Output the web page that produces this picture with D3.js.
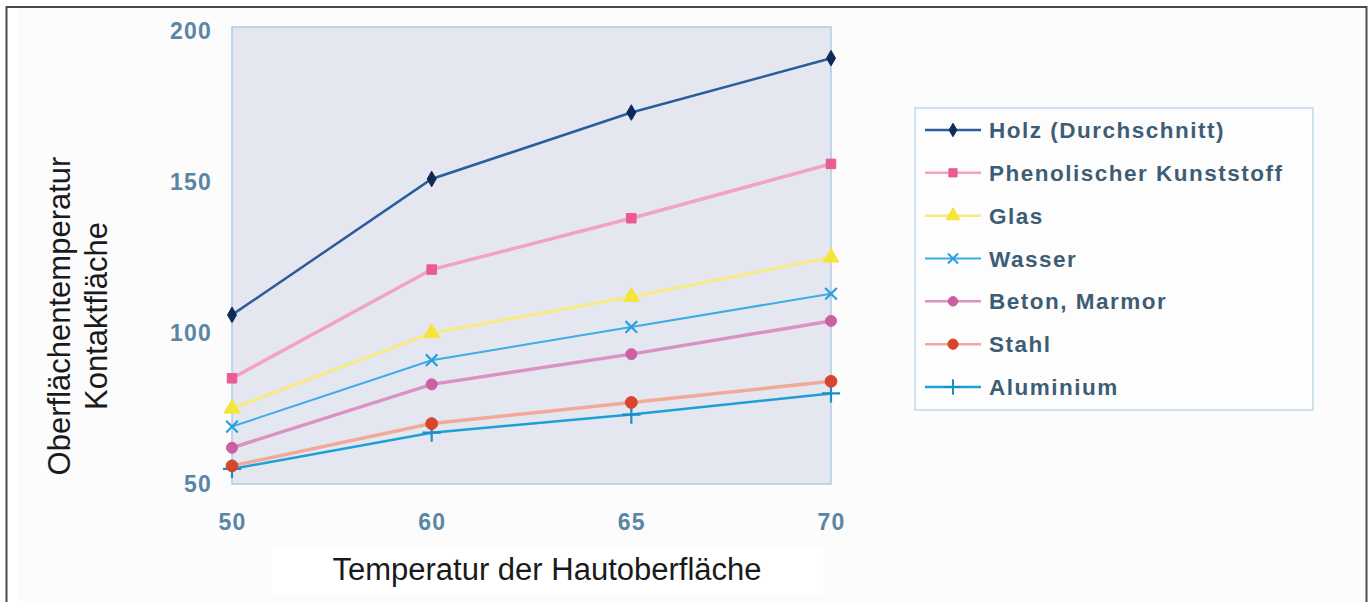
<!DOCTYPE html>
<html lang="de">
<head>
	<meta charset="UTF-8"/>
	<title>Oberflächentemperatur der Kontaktfläche</title>
	<script src="https://d3js.org/d3.v7.min.js"></script>
	<style>
		body { margin: 0; background: #ffffff; }
		svg { display: block; font-family: "Liberation Sans", Arial, Helvetica, sans-serif; }
	</style>
</head>
<body>
<script>
	var w = 1372;	// Width of the SVG
	var h = 602;	// Height of the SVG

	// Categories on the x axis (skin temperature)
	var hautTemp = ["50", "60", "65", "70"];
	// Tick values on the y axis
	var yTicks = [50, 100, 150, 200];

	// Legend names
	var materialien = ["Holz (Durchschnitt)", "Phenolischer Kunststoff", "Glas", "Wasser",
		"Beton, Marmor", "Stahl", "Aluminium"];

	// Series values, one per material
	var holz      = [106, 151, 173, 191];
	var phenol    = [85, 121, 138, 156];
	var glas      = [75, 100, 112, 125];
	var wasser    = [69, 91, 102, 113];
	var beton     = [62, 83, 93, 104];
	var stahl     = [56, 70, 77, 84];
	var aluminium = [55, 67, 73, 80];

	var werte = [holz, phenol, glas, wasser, beton, stahl, aluminium];

	// Styles for each series: line colour, marker colour, marker type
	var stile = [
		{ line: "#2b5c9b", mark: "#0f2a56", sym: d3.symbolDiamond, size: 70, fill: true, lw: 2.5 },
		{ line: "#f3a2bf", mark: "#ea5a93", sym: d3.symbolSquare, size: 90, fill: true, lw: 3.5 },
		{ line: "#f7ea82", mark: "#f5e43a", sym: d3.symbolTriangle, size: 110, fill: true, lw: 3 },
		{ line: "#3aade3", mark: "#2a9fdf", sym: d3.symbolTimes || d3.symbolX, size: 90, fill: false, lw: 2 },
		{ line: "#da92c2", mark: "#cc5ea2", sym: d3.symbolCircle, size: 95, fill: true, lw: 3.5 },
		{ line: "#f1aa9a", mark: "#d8452e", sym: d3.symbolCircle, size: 110, fill: true, lw: 3.5 },
		{ line: "#1d9fd8", mark: "#1a8fc6", sym: d3.symbolPlus, size: 110, fill: false, lw: 2.5 }
	];

	// Table built for drawing
	var serien = materialien.map(function(name, i) {
		return { name: name, values: werte[i], stil: stile[i] };
	});

	var xScale = d3.scalePoint()
		.domain(hautTemp)
		.range([232, 831]);

	var yScale = d3.scaleLinear()
		.domain([50, 200])
		.range([484, 31]);

	var svg = d3.select("body")
		.append("svg")
		.attr("width", w)
		.attr("height", h);

	// Page background and outer frame
	svg.append("rect")
		.attr("x", 0).attr("y", 0)
		.attr("width", w).attr("height", h)
		.attr("fill", "#ffffff");
	svg.append("rect")
		.attr("x", 18).attr("y", 8)
		.attr("width", 1347).attr("height", h)
		.attr("fill", "#fcfcfc");
	svg.append("path")
		.attr("d", "M6.5," + h + "V7H1366.5V" + h)
		.attr("fill", "none")
		.attr("stroke", "#4a4a4a")
		.attr("stroke-width", 2);

	// Plot area
	svg.append("rect")
		.attr("x", 232)
		.attr("y", 27)
		.attr("width", 831 - 232)
		.attr("height", 484 - 27)
		.attr("fill", "#e5e7f0")
		.attr("stroke", "#afcce2")
		.attr("stroke-width", 1.5);

	// Shared style for the tick labels
	function tickStil(sel) {
		sel.attr("font-size", 23)
			.attr("font-weight", "bold")
			.attr("letter-spacing", "1.2px")
			.attr("font-family", "Liberation Sans, Arial, sans-serif")
			.attr("fill", "#5a86a6");
	}

	// Y axis (labels only)
	var yAxis = d3.axisLeft(yScale)
		.tickValues(yTicks)
		.tickSize(0)
		.tickPadding(20);

	var gy = svg.append("g")
		.attr("transform", "translate(232,0)")
		.call(yAxis);
	gy.select(".domain").remove();
	gy.selectAll("text").call(tickStil);

	// X axis (labels only)
	var xAxis = d3.axisBottom(xScale)
		.tickSize(0)
		.tickPadding(30);

	var gx = svg.append("g")
		.attr("transform", "translate(0,484)")
		.call(xAxis);
	gx.select(".domain").remove();
	gx.selectAll("text").call(tickStil);

	// Lines and markers
	var linie = d3.line()
		.x(function(d, i) { return xScale(hautTemp[i]); })
		.y(function(d) { return yScale(d); });

	var gSerie = svg.selectAll(".serie")
		.data(serien.slice().reverse())
		.enter()
		.append("g")
		.attr("class", "serie");

	gSerie.append("path")
		.attr("d", function(d) { return linie(d.values); })
		.attr("fill", "none")
		.attr("stroke", function(d) { return d.stil.line; })
		.attr("stroke-width", function(d) { return d.stil.lw; });

	gSerie.selectAll(".mark")
		.data(function(d) {
			return d.values.map(function(v, i) { return { v: v, i: i, stil: d.stil }; });
		})
		.enter()
		.append("path")
		.attr("class", "mark")
		.attr("transform", function(d) {
			return "translate(" + xScale(hautTemp[d.i]) + "," + yScale(d.v) + ")";
		})
		.attr("d", function(d) { return d3.symbol().type(d.stil.sym).size(d.stil.size)(); })
		.attr("fill", function(d) { return d.stil.fill ? d.stil.mark : "none"; })
		.attr("stroke", function(d) { return d.stil.mark; })
		.attr("stroke-width", function(d) { return d.stil.fill ? 1 : 2.2; });

	// Legend
	svg.append("rect")
		.attr("x", 915)
		.attr("y", 108)
		.attr("width", 398)
		.attr("height", 302)
		.attr("fill", "#fdfdfd")
		.attr("stroke", "#c2d8ea")
		.attr("stroke-width", 1.5);

	var legY = d3.scalePoint()
		.domain(materialien)
		.range([130, 387]);

	var gLeg = svg.selectAll(".leg")
		.data(serien)
		.enter()
		.append("g")
		.attr("class", "leg")
		.attr("transform", function(d) { return "translate(0," + legY(d.name) + ")"; });

	gLeg.append("line")
		.attr("x1", 925).attr("x2", 981)
		.attr("y1", 0).attr("y2", 0)
		.attr("stroke", function(d) { return d.stil.line; })
		.attr("stroke-width", function(d) { return Math.min(d.stil.lw, 2.5); });

	gLeg.append("path")
		.attr("transform", "translate(953,0)")
		.attr("d", function(d) { return d3.symbol().type(d.stil.sym).size(d.stil.size * 0.75)(); })
		.attr("fill", function(d) { return d.stil.fill ? d.stil.mark : "none"; })
		.attr("stroke", function(d) { return d.stil.mark; })
		.attr("stroke-width", function(d) { return d.stil.fill ? 1 : 2; });

	gLeg.append("text")
		.attr("x", 989)
		.attr("y", 8)
		.attr("font-size", 22.5)
		.attr("font-weight", "bold")
		.attr("letter-spacing", "1.5px")
		.attr("fill", "#3e5d75")
		.text(function(d) { return d.name; });

	// X axis title in its white box
	svg.append("rect")
		.attr("x", 271)
		.attr("y", 548)
		.attr("width", 552)
		.attr("height", 46)
		.attr("fill", "#ffffff");

	svg.append("text")
		.attr("x", 547)
		.attr("y", 580)
		.attr("text-anchor", "middle")
		.attr("font-size", 31)
		.attr("fill", "#1a1a1a")
		.text("Temperatur der Hautoberfläche");

	// Y axis title, two lines
	svg.append("text")
		.attr("transform", "translate(70,316) rotate(-90)")
		.attr("text-anchor", "middle")
		.attr("font-size", 31)
		.attr("fill", "#1a1a1a")
		.text("Oberflächentemperatur");

	svg.append("text")
		.attr("transform", "translate(107,316) rotate(-90)")
		.attr("text-anchor", "middle")
		.attr("font-size", 31)
		.attr("fill", "#1a1a1a")
		.text("Kontaktfläche");
</script>
</body>
</html>
